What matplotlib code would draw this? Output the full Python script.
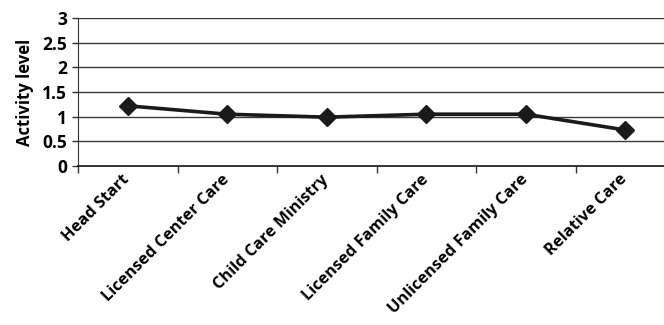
import matplotlib.pyplot as plt
import matplotlib.transforms as mtransforms
import numpy as np

plt.rcParams['font.family'] = ['Open Sans', 'DejaVu Sans']

care_types = ['Head Start', 'Licensed Center Care', 'Child Care Ministry',
              'Licensed Family Care', 'Unlicensed Family Care', 'Relative Care']
activity = [1.22, 1.05, 0.99, 1.05, 1.05, 0.73]
y_ticks = [0, 0.5, 1, 1.5, 2, 2.5, 3]
y_tick_labels = ['0', '0.5', '1', '1.5', '2', '2.5', '3']

fig = plt.figure(figsize=(6.64, 3.25), dpi=100)
# axes run a little past the right edge of the figure
ax = fig.add_axes([78 / 664, 1 - 166 / 325, 597 / 664, 148 / 325])

x = np.arange(len(care_types))
ax.plot(x, activity, color='#1a1a1a', lw=2.6, marker='D', ms=9.5,
        mfc='#1a1a1a', mec='#1a1a1a', zorder=3, clip_on=False)

ax.set_xlim(-0.5, len(care_types) - 0.5)
ax.set_ylim(0, 3)
ax.set_yticks(y_ticks)
ax.set_yticklabels(y_tick_labels, fontsize=12.5, fontweight='bold')
for y in y_ticks[1:]:
    ax.axhline(y, color='#3a3a3a', lw=1.0, zorder=1)

# category labels at the centres, boundary ticks between them
ax.set_xticks(x)
ax.set_xticklabels(care_types, rotation=45, ha='right', rotation_mode='anchor',
                   fontsize=11.8, fontweight='bold')
ax.tick_params(axis='x', length=0, pad=4)
# nudge the slanted labels so their ends sit under the points
shift = mtransforms.ScaledTranslation(-6 / 100, 0, fig.dpi_scale_trans)
for lbl in ax.get_xticklabels():
    lbl.set_transform(lbl.get_transform() + shift)
ax.set_xticks(np.arange(-0.5, len(care_types), 1), minor=True)
ax.tick_params(axis='x', which='minor', length=5, width=1, color='#333333')
ax.tick_params(axis='y', length=4, width=1, color='#333333', pad=4)

for side in ['top', 'right']:
    ax.spines[side].set_visible(False)
ax.spines['left'].set_color('#333333')
ax.spines['bottom'].set_color('#111111')
ax.spines['bottom'].set_linewidth(1.2)

ax.set_ylabel('Activity level', fontsize=12, fontweight='bold', labelpad=6)

fig.savefig('out.png', dpi=100)
